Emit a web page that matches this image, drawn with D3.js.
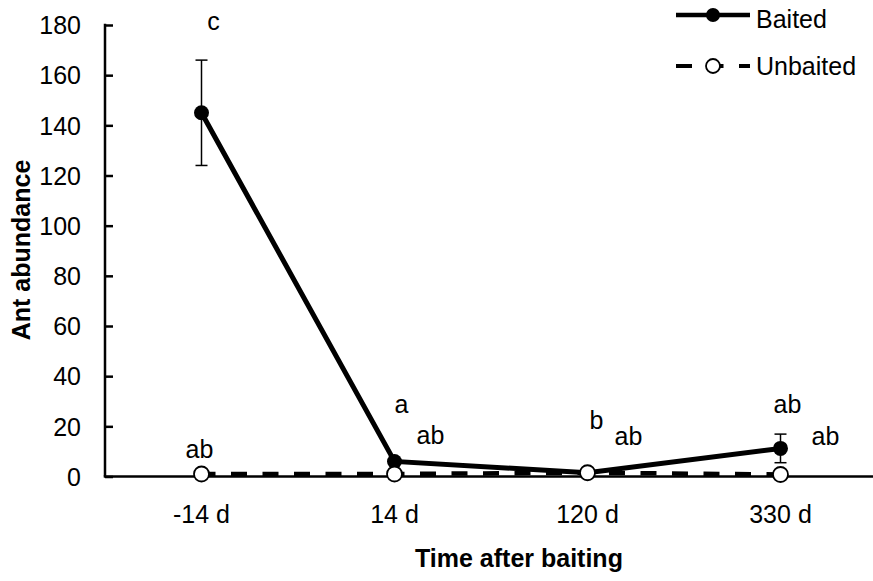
<!DOCTYPE html>
<html><head><meta charset="utf-8">
<script src="https://cdn.jsdelivr.net/npm/d3@7"></script>
<style>body{margin:0;background:#fff}svg{display:block}text{font-family:"Liberation Sans",Arial,sans-serif;fill:#000}</style>
</head><body><svg id="c" width="873" height="581"></svg>
<script>
const categories = ["-14 d","14 d","120 d","330 d"];
const baited = [145, 6, 1.5, 11.2];
const baitedErr = [21, 0, 0, 5.7];
const unbaited = [1, 1, 1.5, 0.8];
const baitedLetters = ["c","a","b","ab"];
const unbaitedLetters = ["ab","ab","ab","ab"];
const yTicks = [0,20,40,60,80,100,120,140,160,180];
const seriesNames = ["Baited","Unbaited"];

const FS = 25;
const svg = d3.select("#c");
const L = 105, R = 877, T = 25, B = 476.5;
const x = d3.scaleBand().domain(categories).range([L, R]);
const y = d3.scaleLinear().domain([0,180]).range([B, T]);
const cx = d => x(d) + x.bandwidth()/2;

// y axis
const ya = svg.append("g").attr("transform",`translate(${L},0)`)
  .call(d3.axisLeft(y).tickValues(yTicks).tickSize(-8));
ya.select(".domain").remove();
ya.selectAll(".tick line").attr("stroke","#000").attr("stroke-width",2.5);
ya.selectAll(".tick text").attr("font-size",FS).attr("x",-24).attr("dy","0.35em").attr("font-family",null);
svg.append("line").attr("x1",L).attr("x2",L).attr("y1",T-1.25).attr("y2",B).attr("stroke","#000").attr("stroke-width",2.5);

// x axis
const xa = svg.append("g").attr("transform",`translate(0,${B})`)
  .call(d3.axisBottom(x).tickSize(0));
xa.select(".domain").remove();
xa.selectAll(".tick text").attr("font-size",FS).attr("y",46).attr("dy",null).attr("font-family",null);
svg.append("line").attr("x1",L-1.25).attr("x2",873).attr("y1",B).attr("y2",B).attr("stroke","#000").attr("stroke-width",2.5);

// titles
svg.append("text").attr("x",415).attr("y",567).attr("text-anchor","start")
  .attr("font-size",FS).attr("font-weight","bold").text("Time after baiting");
svg.append("text").attr("transform","translate(30,250) rotate(-90)").attr("text-anchor","middle")
  .attr("font-size",FS).attr("font-weight","bold").text("Ant abundance");

// unbaited dashed line
const line = d3.line().x((d,i)=>cx(categories[i])).y(d=>y(d));
svg.append("path").datum(unbaited).attr("d",line).attr("fill","none")
  .attr("stroke","#000").attr("stroke-width",4.5).attr("stroke-dasharray","16,15.5").attr("stroke-dashoffset",2);

// baited error bars
categories.forEach((c,i)=>{
  if(baitedErr[i]>0){
    const g = svg.append("g").attr("stroke","#000").attr("stroke-width",1.5);
    g.append("line").attr("x1",cx(c)).attr("x2",cx(c)).attr("y1",y(baited[i]-baitedErr[i])).attr("y2",y(baited[i]+baitedErr[i]));
    [baited[i]-baitedErr[i], baited[i]+baitedErr[i]].forEach(v=>{
      g.append("line").attr("x1",cx(c)-6).attr("x2",cx(c)+6).attr("y1",y(v)).attr("y2",y(v));
    });
  }
});
// baited line
svg.append("path").datum(baited).attr("d",line).attr("fill","none").attr("stroke","#000").attr("stroke-width",5);
svg.selectAll("circle.b").data(baited).enter().append("circle").attr("class","b")
  .attr("cx",(d,i)=>cx(categories[i])).attr("cy",d=>y(d)).attr("r",7.5).attr("fill","#000");
svg.selectAll("circle.u").data(unbaited).enter().append("circle").attr("class","u")
  .attr("cx",(d,i)=>cx(categories[i])).attr("cy",d=>y(d)).attr("r",7.5).attr("fill","#fff").attr("stroke","#000").attr("stroke-width",1.8);

// letters (offsets relative to points / error-bar tops)
const bOff = [[12,-30],[7,-48],[9,-44],[7,-35]];
const uOff = [[-2,-16],[36,-30],[41,-28],[45,-29]];
baitedLetters.forEach((t,i)=>{
  const ref = y(baited[i] + (i===0 ? baitedErr[i] : 0));
  svg.append("text").attr("x",cx(categories[i])+bOff[i][0]).attr("y",ref+bOff[i][1])
    .attr("text-anchor","middle").attr("font-size",FS).text(t);
});
unbaitedLetters.forEach((t,i)=>svg.append("text").attr("x",cx(categories[i])+uOff[i][0]).attr("y",y(unbaited[i])+uOff[i][1])
  .attr("text-anchor","middle").attr("font-size",FS).text(t));

// legend
const lg = svg.append("g");
lg.append("line").attr("x1",676).attr("x2",750).attr("y1",15).attr("y2",15).attr("stroke","#000").attr("stroke-width",4.5);
lg.append("circle").attr("cx",713).attr("cy",15).attr("r",7).attr("fill","#000");
lg.append("text").attr("x",756).attr("y",28).attr("font-size",FS).text(seriesNames[0]);
lg.append("line").attr("x1",676).attr("x2",750).attr("y1",66).attr("y2",66).attr("stroke","#000").attr("stroke-width",4).attr("stroke-dasharray","16,15.5");
lg.append("circle").attr("cx",713).attr("cy",66).attr("r",7).attr("fill","#fff").attr("stroke","#000").attr("stroke-width",1.8);
lg.append("text").attr("x",756).attr("y",75).attr("font-size",FS).text(seriesNames[1]);
</script></body></html>
